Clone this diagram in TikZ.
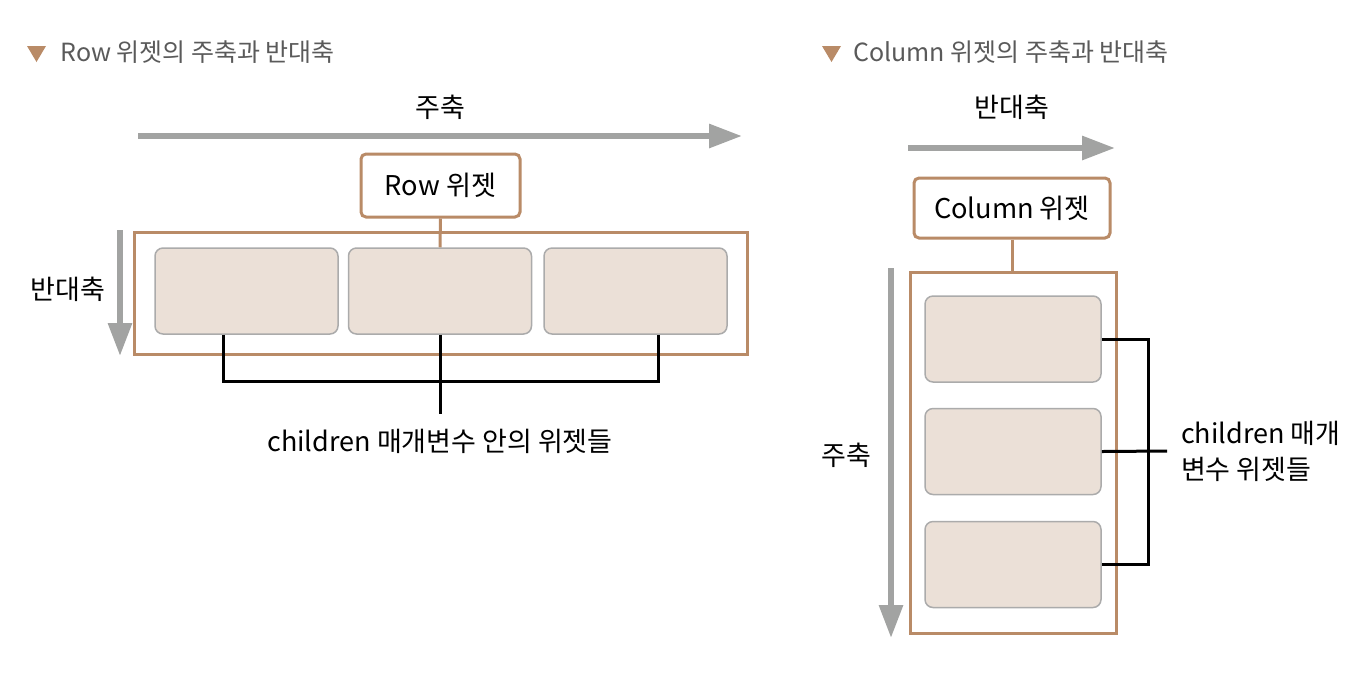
\documentclass[tikz,border=0pt]{standalone}
\usepackage{fontspec}
\setmainfont{Noto Sans CJK KR}
\usetikzlibrary{arrows.meta}
\definecolor{tan}{HTML}{B98B67}
\definecolor{axis}{HTML}{A2A3A2}
\definecolor{sand}{HTML}{EBE0D7}
\definecolor{edge}{HTML}{ABABAB}
\definecolor{muted}{HTML}{5A5A5A}

\begin{document}
\begin{tikzpicture}[x=0.5pt, y=-0.5pt,
  parent/.style={draw=tan, line width=1.5pt, rounded corners=2.5pt, fill=white,
                 font=\fontsize{13.6}{16}\selectfont},
  holder/.style={draw=tan, line width=1.5pt, inner sep=0pt},
  kid/.style={draw=edge, line width=0.75pt, fill=sand, rounded corners=4pt, inner sep=0pt},
  axisarrow/.style={draw=axis, line width=3pt, -{Triangle[length=16.5pt, width=11.5pt]}},
  bracket/.style={draw=black, line width=1.5pt},
  lbl/.style={font=\fontsize{13.5}{18}\selectfont},
  head/.style={font=\fontsize{12.5}{14}\selectfont, text=muted, anchor=west, inner sep=0pt}]
  \useasboundingbox (0,0) rectangle (1368,692);

  % headings
  \fill[tan] (27,46) -- (46,46) -- (36.5,62) -- cycle;
  \node[head] (rhead) at (60,52) {Row 위젯의 주축과 반대축};
  \fill[tan] (822,46) -- (841,46) -- (831.5,62) -- cycle;
  \node[head] (chead) at (853,52) {Column 위젯의 주축과 반대축};

  % row: main axis across, cross axis down
  \draw[axisarrow] (138,136) -- (742,136);
  \draw[axisarrow] (120,230) -- (120,356);
  \node[lbl] (rmain) at (440,107) {주축};
  \node[lbl] (rcross) at (68,289) {반대축};
  \node[holder, minimum width=306.5pt, minimum height=61pt] (rowbox) at (440.5,293) {};
  \foreach \n/\cx in {1/246.5, 2/440, 3/635.5}
    \node[kid, minimum width=91.5pt, minimum height=43pt] (rc\n) at (\cx,291) {};
  \node[parent, minimum width=79.5pt, minimum height=31.5pt] (row) at (440.5,185.5) {Row 위젯};
  \draw[tan, line width=1.5pt] (row.south) -- (rc2.north);
  \node[lbl] (rkids) at (440,441) {children 매개변수 안의 위젯들};
  \coordinate (rjoin) at (440,381);
  \draw[bracket] ([xshift=-11.75pt]rc1.south) |- (rjoin) -| ([xshift=11.25pt]rc3.south);
  \draw[bracket] (rc2.south) -- ([yshift=4pt]rkids.north);

  % column: main axis down, cross axis across
  \draw[axisarrow] (908,148) -- (1115,148);
  \draw[axisarrow] (891,268) -- (891,638);
  \node[lbl] (cmain) at (846,455) {주축};
  \node[lbl] (ccross) at (1012,107) {반대축};
  \node[holder, minimum width=103pt, minimum height=180.5pt] (colbox) at (1013,452.5) {};
  \foreach \n/\cy in {1/339, 2/451.5, 3/564.5}
    \node[kid, minimum width=88pt, minimum height=43pt] (cc\n) at (1013,\cy) {};
  \node[parent, minimum width=98pt, minimum height=30pt] (col) at (1012,208) {Column 위젯};
  \draw[tan, line width=1.5pt] (col.south) -- (col.south |- colbox.north);
  \node[lbl, align=left, anchor=west] (ckids) at (1174,451) {children 매개\\변수 위젯들};
  \coordinate (cjoin) at (1148,452);
  \draw[bracket] (cc1.east) -| (cjoin) |- (cc3.east);
  \draw[bracket] (cc2.east) -- ([xshift=-3.5pt]ckids.west);
\end{tikzpicture}
\end{document}
